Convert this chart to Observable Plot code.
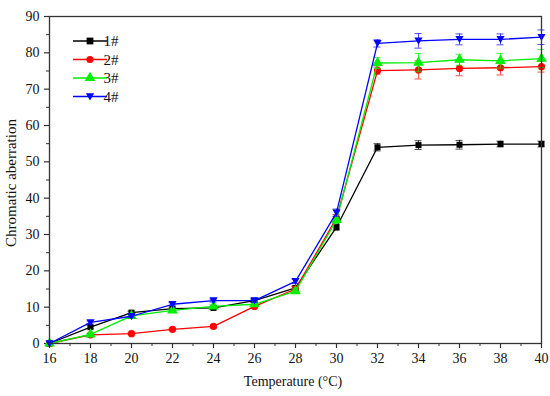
<!DOCTYPE html>
<html><head><meta charset="utf-8">
<script src="https://cdn.jsdelivr.net/npm/d3@7"></script>
<script src="https://cdn.jsdelivr.net/npm/@observablehq/plot@0.6"></script>
<style>body{margin:0;background:#fff}</style>
</head><body><div id="chart"></div>
<script>
const temps = [16,18,20,22,24,26,28,30,32,34,36,38,40];
const s1 = [0,4.5,8.5,9.6,9.8,11.8,15.3,32,54.0,54.6,54.7,54.9,54.9];
const s2 = [0,2.4,2.7,3.9,4.7,10.2,15.0,34.5,75.1,75.3,75.7,75.9,76.2];
const s3 = [0,2.5,7.6,9.1,10.2,10.8,14.4,34,77.2,77.3,78.1,77.8,78.4];
const s4 = [0,5.8,7.5,10.8,11.8,11.8,17.1,36,82.6,83.3,83.7,83.7,84.3];
const e1 = [0,0.4,0.4,0.4,0.4,0.4,0.5,0.8,1.0,1.2,1.2,0.8,0.8];
const e2 = [0,0.3,0.3,0.3,0.4,0.5,0.6,1.0,1.0,2.5,2.0,2.0,1.5];
const e3 = [0,0.3,0.4,0.4,0.4,0.5,0.6,1.0,1.5,2.5,1.5,2.0,2.5];
const e4 = [0,0.4,0.4,0.4,0.4,0.5,0.6,1.0,1.0,2.0,1.5,1.5,2.0];
const names = ["1#","2#","3#","4#"];
const colors = ["#000000","#ff0000","#00ee00","#0000ff"];
const xTicks = [16,18,20,22,24,26,28,30,32,34,36,38,40];
const yTicks = [0,10,20,30,40,50,60,70,80,90];
const xMinor = [17,19,21,23,25,27,29,31,33,35,37,39];
const yMinor = [5,15,25,35,45,55,65,75,85];

const triDown = {draw(ctx, size){const r=Math.sqrt(size/3);ctx.moveTo(-r,-r*0.8);ctx.lineTo(r,-r*0.8);ctx.lineTo(0,r*0.95);ctx.closePath();}};
const symbols = ["square","circle","triangle",triDown];
const vals = [s1,s2,s3,s4], errs=[e1,e2,e3,e4];
const data = [];
names.forEach((n,i)=>temps.forEach((t,j)=>data.push({series:n,i,t,v:vals[i][j],e:errs[i][j]})));

const W=550,H=396,mt=16,mb=53,ml=49,mr=9;
const innerH=H-mt-mb, innerW=W-ml-mr;
const font='"Liberation Serif","Times New Roman",serif';
const marks=[];
marks.push(Plot.axisX(xMinor,{tickSize:3,text:null,label:null,stroke:"#333"}));
marks.push(Plot.axisY(yMinor,{tickSize:3,text:null,label:null,stroke:"#333"}));
marks.push(Plot.axisX(xTicks,{tickSize:5,tickPadding:5,label:null,fontSize:14,fill:"#111",stroke:"#333",strokeWidth:1.2}));
marks.push(Plot.axisY(yTicks,{tickSize:5,tickPadding:5,label:null,fontSize:14,fill:"#111",stroke:"#333",strokeWidth:1.2}));
names.forEach((n,i)=>{
  const d=data.filter(r=>r.i===i);
  const col=colors[i];
  const ed=d.filter(r=>r.e>0);
  marks.push(Plot.ruleX(ed,{x:"t",y1:r=>r.v-r.e,y2:r=>r.v+r.e,stroke:col,strokeOpacity:0.7,strokeWidth:1}));
  marks.push(Plot.ruleY(ed,{y:r=>r.v+r.e,x1:r=>r.t-0.17,x2:r=>r.t+0.17,stroke:col,strokeOpacity:0.7,strokeWidth:1}));
  marks.push(Plot.ruleY(ed,{y:r=>r.v-r.e,x1:r=>r.t-0.17,x2:r=>r.t+0.17,stroke:col,strokeOpacity:0.7,strokeWidth:1}));
  marks.push(Plot.line(d,{x:"t",y:"v",stroke:col,strokeWidth:1.3}));
  marks.push(Plot.dot(d,{x:"t",y:"v",fill:col,stroke:"none",symbol:()=>symbols[i],r:i===1?3.6:(i===0?3.4:4)}));
});
marks.push(Plot.frame({stroke:"#333",strokeWidth:1.3}));

const chart = Plot.plot({
  width:W,height:H,marginTop:mt,marginBottom:mb,marginLeft:ml,marginRight:mr,
  style:{fontFamily:font,background:"#fff"},
  x:{domain:[16,40]},
  y:{domain:[0,90]},
  symbol:{type:"identity"},
  marks
});
const svg=d3.select(chart);
const lg=svg.append("g").style("font-family",font).style("font-size","15px");
names.forEach((n,i)=>{
  const y=41+i*18.5;
  lg.append("line").attr("x1",73).attr("x2",107).attr("y1",y).attr("y2",y).attr("stroke",colors[i]).attr("stroke-width",1.3);
  const sym=d3.symbol().type(i===0?d3.symbolSquare:i===1?d3.symbolCircle:i===2?d3.symbolTriangle:triDown).size(i===0?46:i===1?40:50);
  lg.append("path").attr("d",sym()).attr("transform",`translate(90,${y})`).attr("fill",colors[i]);
  lg.append("text").attr("x",111).attr("y",y).attr("dy","0.35em").attr("fill","#111").text(n);
});
svg.append("text").attr("x",293).attr("y",386).attr("text-anchor","middle").style("font-family",font).style("font-size","14px").attr("fill","#111").text("Temperature (°C)");
svg.append("text").attr("transform",`translate(16,183) rotate(-90)`).attr("text-anchor","middle").style("font-family",font).style("font-size","15px").attr("fill","#111").text("Chromatic aberration");
document.getElementById("chart").appendChild(chart);
</script></body></html>
